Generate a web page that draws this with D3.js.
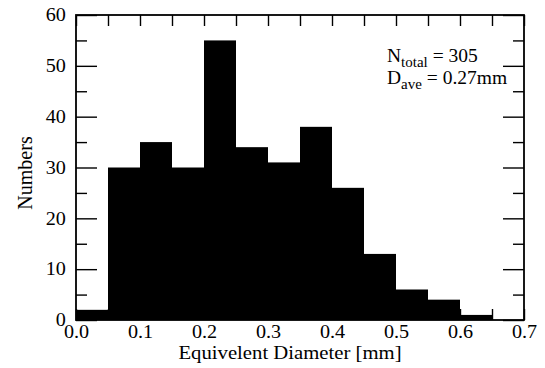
<!DOCTYPE html>
<html>
<head>
<meta charset="utf-8">
<script src="https://cdn.jsdelivr.net/npm/d3@7"></script>
<style>
  body { margin: 0; background: #fff; }
  svg { display: block; }
  text { font-family: "Liberation Serif", "Times New Roman", serif; fill: #000; }
</style>
</head>
<body>
<svg width="545" height="368"></svg>
<script>
// bin left edges [mm] and counts
const binStarts = [0.00, 0.05, 0.10, 0.15, 0.20, 0.25, 0.30, 0.35, 0.40, 0.45, 0.50, 0.55, 0.60];
const counts    = [2, 30, 35, 30, 55, 34, 31, 38, 26, 13, 6, 4, 1];
const binWidth = 0.05;
const xTicks = [0, 0.1, 0.2, 0.3, 0.4, 0.5, 0.6, 0.7];
const xMinor = [0.05, 0.15, 0.25, 0.35, 0.45, 0.55, 0.65];
const yTicks = [0, 10, 20, 30, 40, 50, 60];
const yMinor = [5, 15, 25, 35, 45, 55];

const svg = d3.select("svg");
const pLeft = 76, pRight = 524, pTop = 15, pBottom = 320;
const sx = 1.12; // tick text in the scan is a bit wider than tall

const x = d3.scaleLinear().domain([0, 0.7]).range([pLeft, pRight]);
const y = d3.scaleLinear().domain([0, 60]).range([pBottom, pTop]);

// bars
svg.append("g")
    .selectAll("rect")
    .data(binStarts)
    .enter().append("rect")
    .attr("x", d => x(d))
    .attr("y", (d, i) => y(counts[i]))
    .attr("width", d => x(d + binWidth) - x(d))
    .attr("height", (d, i) => y(0) - y(counts[i]))
    .attr("fill", "#000");

// axes with inward ticks
const tickStyle = g => {
    g.select(".domain").remove();
    g.selectAll("line").attr("stroke", "#000").attr("stroke-width", 1.4);
};

svg.append("g").attr("transform", `translate(0,${pBottom})`)
    .call(d3.axisBottom(x).tickValues(xTicks).tickSizeInner(-11).tickSizeOuter(0).tickPadding(5).tickFormat(d3.format(".1f")))
    .call(tickStyle)
    .call(g => g.selectAll("text").attr("font-size", 18).attr("transform", `scale(${sx},1)`));
svg.append("g").attr("transform", `translate(0,${pBottom})`)
    .call(d3.axisBottom(x).tickValues(xMinor).tickSize(-11).tickFormat(""))
    .call(tickStyle);

svg.append("g").attr("transform", `translate(0,${pTop})`)
    .call(d3.axisTop(x).tickValues(xTicks.concat(xMinor)).tickSize(-11).tickFormat(""))
    .call(tickStyle);

svg.append("g").attr("transform", `translate(${pLeft},0)`)
    .call(d3.axisLeft(y).tickValues(yTicks).tickSizeInner(-21).tickSizeOuter(0).tickPadding(9))
    .call(tickStyle)
    .call(g => g.selectAll("text").attr("font-size", 18).attr("transform", `scale(${sx},1)`));
svg.append("g").attr("transform", `translate(${pLeft},0)`)
    .call(d3.axisLeft(y).tickValues(yMinor).tickSize(-11).tickFormat(""))
    .call(tickStyle);

svg.append("g").attr("transform", `translate(${pRight},0)`)
    .call(d3.axisRight(y).tickValues(yTicks).tickSize(-21).tickFormat(""))
    .call(tickStyle);
svg.append("g").attr("transform", `translate(${pRight},0)`)
    .call(d3.axisRight(y).tickValues(yMinor).tickSize(-11).tickFormat(""))
    .call(tickStyle);

// frame
svg.append("rect")
    .attr("x", pLeft).attr("y", pTop)
    .attr("width", pRight - pLeft).attr("height", pBottom - pTop)
    .attr("fill", "none").attr("stroke", "#000").attr("stroke-width", 1.8);

// axis titles
svg.append("text")
    .attr("transform", `translate(290,359) scale(${sx},1)`)
    .attr("text-anchor", "middle")
    .attr("font-size", 18.5)
    .text("Equivelent Diameter [mm]");

svg.append("text")
    .attr("transform", "translate(32,173) rotate(-90)")
    .attr("text-anchor", "middle")
    .attr("font-size", 20)
    .text("Numbers");

// annotation
const note = svg.append("g").attr("transform", "translate(387,0)");
const n = note.append("text").attr("y", 62).attr("font-size", 19.5);
n.append("tspan").text("N");
n.append("tspan").attr("dy", 5).attr("font-size", 15).text("total");
n.append("tspan").attr("dy", -5).text(" = 305");
const dl = note.append("text").attr("y", 84).attr("font-size", 19.5);
dl.append("tspan").text("D");
dl.append("tspan").attr("dy", 5).attr("font-size", 15).text("ave");
dl.append("tspan").attr("dy", -5).text(" = 0.27mm");
</script>
</body>
</html>
